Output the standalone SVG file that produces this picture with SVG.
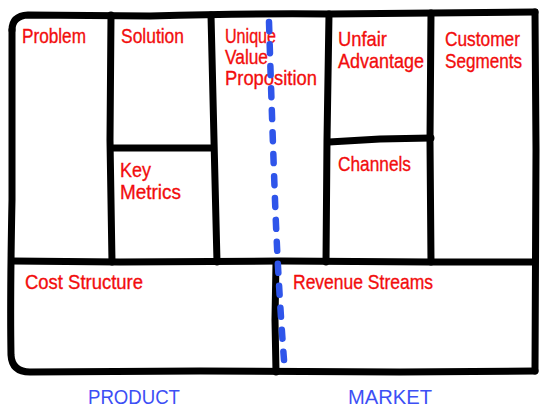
<svg xmlns="http://www.w3.org/2000/svg" width="540" height="409" viewBox="0 0 540 409">
<style>
.ln{fill:none;stroke:#000;stroke-width:7;stroke-linecap:round;stroke-linejoin:round}
.lb{font-family:"Liberation Sans",Arial,sans-serif;font-size:21px;fill:#f20d0d;stroke:#f20d0d;stroke-width:0.35}
.ft{font-family:"Liberation Sans",Arial,sans-serif;font-size:21px;fill:#3d4ff5}
.dv{fill:none;stroke:#2f55ea;stroke-width:6.5;stroke-linecap:round;stroke-dasharray:9 13}
</style>
<rect width="540" height="409" fill="#ffffff"/>
<g id="problem"><text class="lb" x="22" y="43" textLength="64" lengthAdjust="spacingAndGlyphs">Problem</text></g>
<g id="solution"><text class="lb" x="121" y="43" textLength="63" lengthAdjust="spacingAndGlyphs">Solution</text></g>
<g id="uvp">
<text class="lb" x="225" y="43" textLength="51" lengthAdjust="spacingAndGlyphs">Unique</text>
<text class="lb" x="225" y="64" textLength="43" lengthAdjust="spacingAndGlyphs">Value</text>
<text class="lb" x="225" y="85" textLength="92" lengthAdjust="spacingAndGlyphs">Proposition</text>
</g>
<g id="unfair">
<text class="lb" x="338" y="46" textLength="49" lengthAdjust="spacingAndGlyphs">Unfair</text>
<text class="lb" x="338" y="68" textLength="86" lengthAdjust="spacingAndGlyphs">Advantage</text>
</g>
<g id="customer">
<text class="lb" x="445" y="46" textLength="75" lengthAdjust="spacingAndGlyphs">Customer</text>
<text class="lb" x="445" y="68" textLength="77" lengthAdjust="spacingAndGlyphs">Segments</text>
</g>
<g id="keymetrics">
<text class="lb" x="120" y="177" textLength="31" lengthAdjust="spacingAndGlyphs">Key</text>
<text class="lb" x="120" y="199" textLength="61" lengthAdjust="spacingAndGlyphs">Metrics</text>
</g>
<g id="channels"><text class="lb" x="338" y="171" textLength="73" lengthAdjust="spacingAndGlyphs">Channels</text></g>
<g id="cost"><text class="lb" x="25" y="289" textLength="118" lengthAdjust="spacingAndGlyphs">Cost Structure</text></g>
<g id="revenue"><text class="lb" x="293" y="289" textLength="140" lengthAdjust="spacingAndGlyphs">Revenue Streams</text></g>
<g id="product"><text class="ft" x="88" y="404" textLength="92" lengthAdjust="spacingAndGlyphs">PRODUCT</text></g>
<g id="market"><text class="ft" x="348" y="404" textLength="84" lengthAdjust="spacingAndGlyphs">MARKET</text></g>
<g id="connectors">
<path class="ln" d="M12,30 Q12,16 28,15 L150,16 Q260,13 330,14 L535,12"/>
<path class="ln" d="M12,30 L12,200 Q10,300 11,355 Q12,372 30,372 L200,371 L400,372 L535,371"/>
<path class="ln" d="M535,12 L536,150 L535,371"/>
<path class="ln" d="M12,261 L120,262 L280,261 L430,262 L535,262"/>
<path class="ln" d="M111,15 L110,140 L112,262"/>
<path class="ln" d="M211,15 L214,140 L217,262"/>
<path class="ln" d="M111,148 L212,148"/>
<path class="ln" d="M329,14 L327,140 L326,262"/>
<path class="ln" d="M431,13 L430,140 L431,262"/>
<path class="ln" d="M329,142 L380,139 L431,138"/>
<path class="ln" d="M276,262 L275,320 L276,372"/>
<path class="dv" d="M269,22 Q272,120 275,200 Q278,280 284,360"/>
</g>
</svg>
